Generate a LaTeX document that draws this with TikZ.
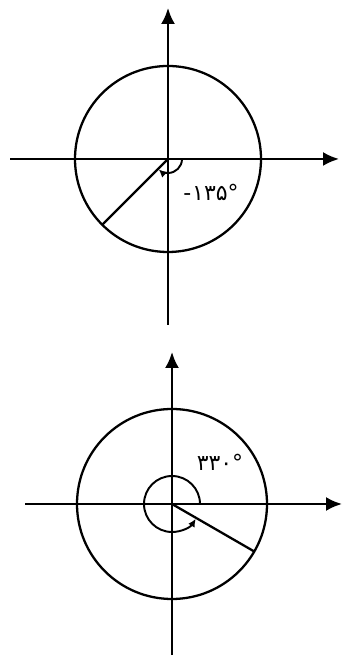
\documentclass[tikz,border=0pt]{standalone}
\usepackage{fontspec}
\newfontfamily\arabicfont[Script=Arabic]{DejaVu Sans}
\usetikzlibrary{arrows.meta}

\begin{document}
\begin{tikzpicture}[line width=1.3pt, >={Latex[length=3.2mm, width=2.8mm]},
	every node/.style={font=\arabicfont\fontsize{12.5}{14}\selectfont},
	turn/.style={line width=1.1pt, -{Latex[length=1.6mm, width=1.5mm]}}]
	\useasboundingbox (0,0) rectangle (6.84,13.14);
	% top: -135 degrees
	\coordinate (o1) at (3.36,9.96);
	\coordinate (xl1) at (0.2,9.96);
	\coordinate (xr1) at (6.78,9.96);
	\coordinate (yb1) at (3.36,6.64);
	\coordinate (yt1) at (3.36,12.98);
	\draw[->] (xl1) -- (xr1);
	\draw[->] (yb1) -- (yt1);
	\draw (o1) circle (1.86);
	\coordinate (p1) at ([shift={(-135:1.86)}]o1);
	\draw (o1) -- (p1);
	\draw[turn] ([shift={(0:0.28)}]o1) arc[start angle=0, end angle=-132, radius=0.28];
	\node (a1) at (4.22,9.30) {-\kern0.5pt ۱۳۵°};
	% bottom: 330 degrees
	\coordinate (o2) at (3.44,3.06);
	\coordinate (xl2) at (0.5,3.06);
	\coordinate (xr2) at (6.84,3.06);
	\coordinate (yb2) at (3.44,0.04);
	\coordinate (yt2) at (3.44,6.10);
	\draw[->] (xl2) -- (xr2);
	\draw[->] (yb2) -- (yt2);
	\draw (o2) circle (1.9);
	\coordinate (p2) at ([shift={(-30:1.9)}]o2);
	\draw (o2) -- (p2);
	\draw[turn] ([shift={(0:0.56)}]o2) arc[start angle=0, end angle=328, radius=0.56];
	\node (a2) at (4.40,3.90) {۳۳۰°};
\end{tikzpicture}
\end{document}
